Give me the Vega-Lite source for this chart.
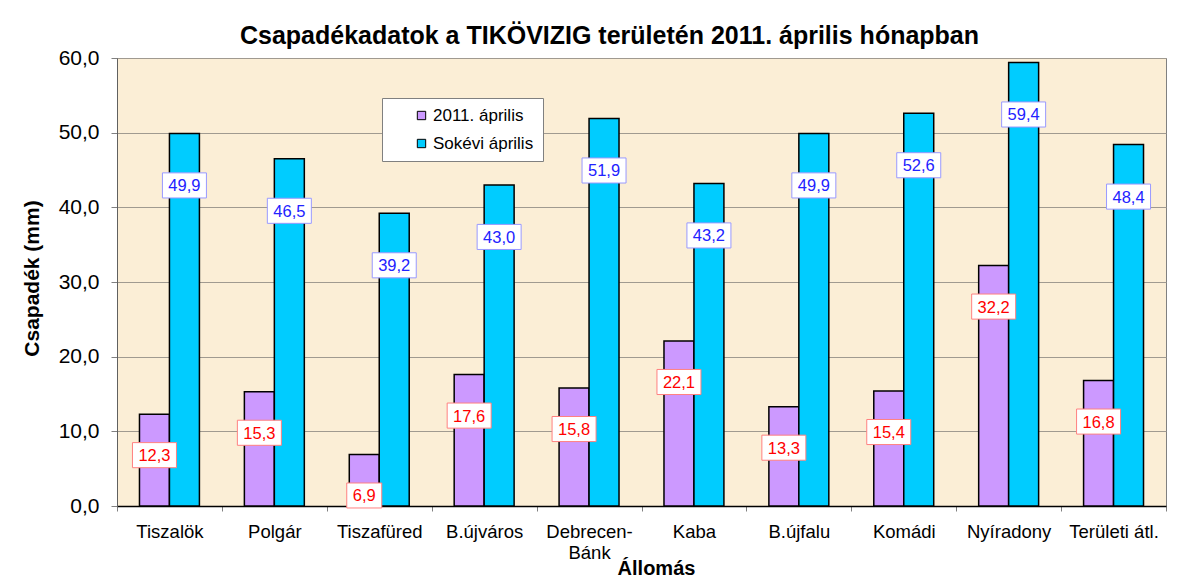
{
  "$schema": "https://vega.github.io/schema/vega-lite/v6.json",
  "width": 1049,
  "height": 448,
  "autosize": {"type": "none"},
  "padding": {"left": 117, "top": 58, "right": 37, "bottom": 78},
  "background": "white",
  "config": {
    "font": "Liberation Sans",
    "locale": {"number": {"decimal": ",", "thousands": " ", "grouping": [3], "currency": ["", " Ft"]}},
    "view": {"fill": "#FBEED6", "stroke": "#808080", "strokeWidth": 1}
  },
  "title": {
    "text": "Csapadékadatok a TIKÖVIZIG területén 2011. április hónapban",
    "fontSize": 25,
    "fontWeight": "bold",
    "color": "#000000",
    "anchor": "middle",
    "dx": -32,
    "dy": 4,
    "offset": 2
  },
  "data": {
    "values": [
      {"station": "Tiszalök", "series": "2011. április", "value": 12.3},
      {"station": "Polgár", "series": "2011. április", "value": 15.3},
      {"station": "Tiszafüred", "series": "2011. április", "value": 6.9},
      {"station": "B.újváros", "series": "2011. április", "value": 17.6},
      {"station": "Debrecen-Bánk", "series": "2011. április", "value": 15.8},
      {"station": "Kaba", "series": "2011. április", "value": 22.1},
      {"station": "B.újfalu", "series": "2011. április", "value": 13.3},
      {"station": "Komádi", "series": "2011. április", "value": 15.4},
      {"station": "Nyíradony", "series": "2011. április", "value": 32.2},
      {"station": "Területi átl.", "series": "2011. április", "value": 16.8},
      {"station": "Tiszalök", "series": "Sokévi április", "value": 49.9},
      {"station": "Polgár", "series": "Sokévi április", "value": 46.5},
      {"station": "Tiszafüred", "series": "Sokévi április", "value": 39.2},
      {"station": "B.újváros", "series": "Sokévi április", "value": 43.0},
      {"station": "Debrecen-Bánk", "series": "Sokévi április", "value": 51.9},
      {"station": "Kaba", "series": "Sokévi április", "value": 43.2},
      {"station": "B.újfalu", "series": "Sokévi április", "value": 49.9},
      {"station": "Komádi", "series": "Sokévi április", "value": 52.6},
      {"station": "Nyíradony", "series": "Sokévi április", "value": 59.4},
      {"station": "Területi átl.", "series": "Sokévi április", "value": 48.4}
    ]
  },
  "encoding": {
    "x": {
      "field": "station",
      "type": "nominal",
      "sort": null,
      "scale": {"paddingInner": 0, "paddingOuter": 0},
      "axis": {
        "title": "Állomás",
        "titleFontSize": 20,
        "titleFontWeight": "bold",
        "titleColor": "#000000",
        "titleX": 539,
        "titleY": 62,
        "titleBaseline": "middle",
        "labelAngle": 0,
        "labelFontSize": 18.5,
        "labelColor": "#000000",
        "labelPadding": 11,
        "labelLineHeight": 21,
        "labelExpr": "datum.label == 'Debrecen-Bánk' ? ['Debrecen-', 'Bánk'] : datum.label",
        "tickBand": "extent",
        "tickSize": 5,
        "tickColor": "#808080",
        "domainColor": "#000000",
        "domainWidth": 1.5,
        "grid": false
      }
    },
    "xOffset": {
      "field": "series",
      "type": "nominal",
      "sort": ["2011. április", "Sokévi április"],
      "scale": {"paddingInner": 0, "paddingOuter": 0.75}
    },
    "y": {
      "field": "value",
      "type": "quantitative",
      "scale": {"domain": [0, 60], "nice": false},
      "axis": {
        "title": "Csapadék (mm)",
        "titleFontSize": 21,
        "titleFontWeight": "bold",
        "titleColor": "#000000",
        "titleX": -85,
        "titleY": 220,
        "titleAngle": -90,
        "titleAlign": "center",
        "titleBaseline": "middle",
        "values": [0, 10, 20, 30, 40, 50, 60],
        "format": ".1f",
        "labelFontSize": 21,
        "labelColor": "#000000",
        "labelPadding": 12,
        "tickSize": 6,
        "tickColor": "#808080",
        "domainColor": "#606060",
        "grid": true,
        "gridColor": "#A09A90",
        "gridWidth": 1
      }
    }
  },
  "layer": [
    {
      "mark": {"type": "bar", "stroke": "#000000", "strokeWidth": 1.5},
      "encoding": {
        "color": {
          "field": "series",
          "type": "nominal",
          "sort": ["2011. április", "Sokévi április"],
          "scale": {"domain": ["2011. április", "Sokévi április"], "range": ["#CC99FF", "#00CCFF"]},
          "legend": {
            "title": null,
            "orient": "none",
            "legendX": 265,
            "legendY": 40,
            "direction": "vertical",
            "fillColor": "#FFFFFF",
            "strokeColor": "#808080",
            "padding": 9,
            "symbolOffset": 22,
            "symbolType": "square",
            "symbolSize": 70,
            "symbolStrokeColor": "#000000",
            "symbolStrokeWidth": 1,
            "labelFontSize": 17,
            "labelColor": "#000000",
            "labelOffset": 3,
            "rowPadding": 10
          }
        }
      }
    },
    {
      "transform": [{"filter": "datum.series == '2011. április'"}],
      "mark": {"type": "point", "filled": true, "fill": "#FFFFFF", "stroke": "#FF8080", "strokeWidth": 1, "opacity": 1, "yOffset": 41},
      "encoding": {
        "shape": {"condition": {"test": "datum.value < 10", "value": "M-1,-0.714L1,-0.714L1,0.714L-1,0.714Z"}, "value": "M-1,-0.57L1,-0.57L1,0.57L-1,0.57Z"},
        "size": {"condition": {"test": "datum.value < 10", "value": 1225}, "value": 1936}
      }
    },
    {
      "transform": [{"filter": "datum.series == '2011. április'"}],
      "mark": {"type": "text", "fontSize": 16.5, "color": "#FF0000", "baseline": "middle", "align": "center", "yOffset": 42},
      "encoding": {"text": {"field": "value", "type": "quantitative", "format": ".1f"}}
    },
    {
      "transform": [{"filter": "datum.series == 'Sokévi április'"}],
      "mark": {"type": "point", "filled": true, "fill": "#FFFFFF", "stroke": "#9999FF", "strokeWidth": 1, "opacity": 1, "yOffset": 52},
      "encoding": {
        "shape": {"value": "M-1,-0.57L1,-0.57L1,0.57L-1,0.57Z"},
        "size": {"value": 1936}
      }
    },
    {
      "transform": [{"filter": "datum.series == 'Sokévi április'"}],
      "mark": {"type": "text", "fontSize": 16.5, "color": "#2222FF", "baseline": "middle", "align": "center", "yOffset": 53},
      "encoding": {"text": {"field": "value", "type": "quantitative", "format": ".1f"}}
    }
  ]
}
